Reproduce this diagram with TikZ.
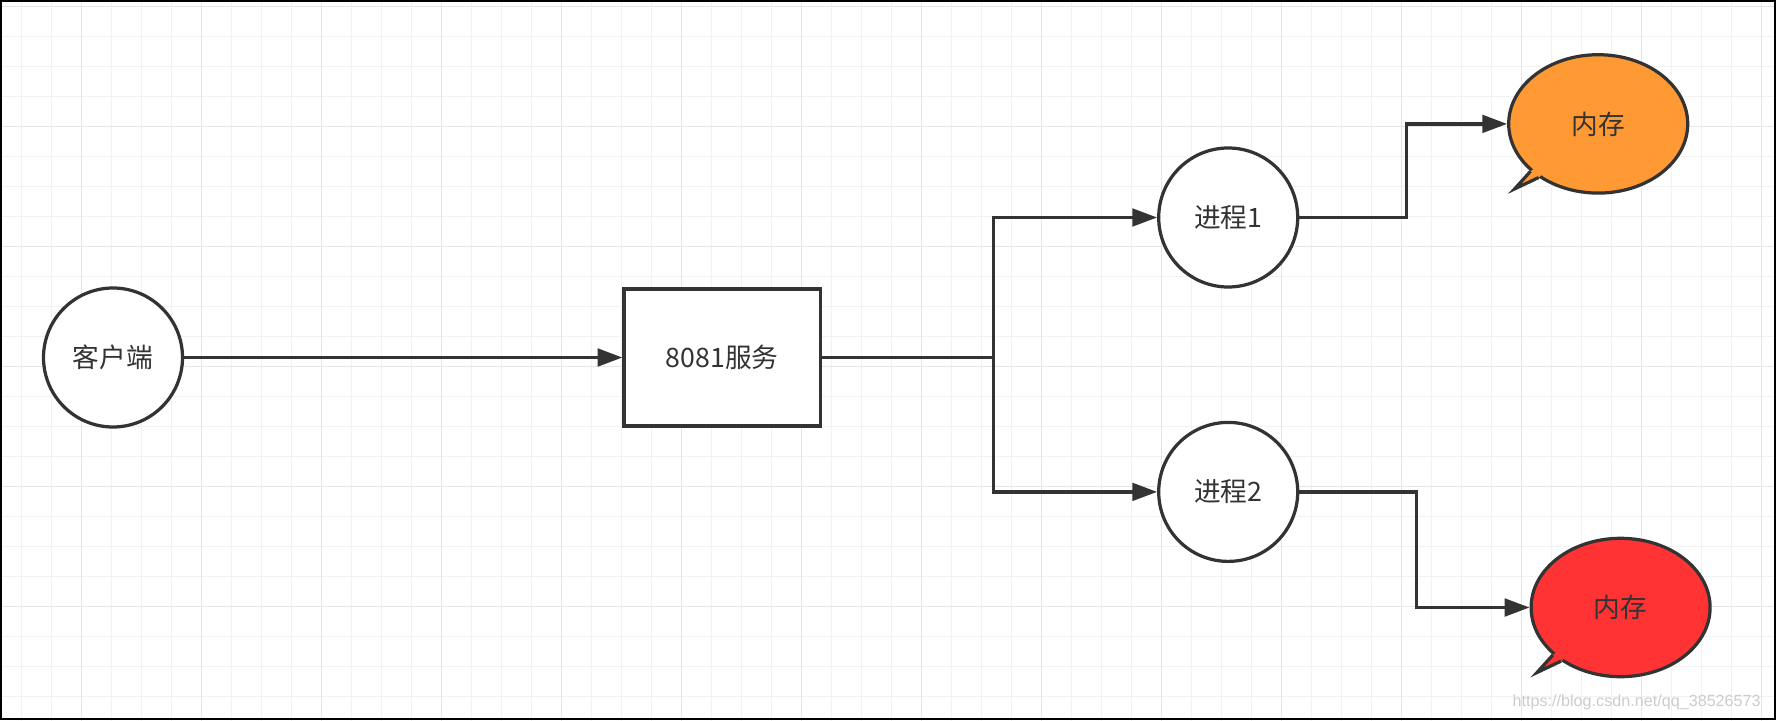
\documentclass[tikz,border=0pt]{standalone}
\usepackage{fontspec}
\setmainfont{Noto Sans CJK SC}
\newfontfamily\wmfont{Liberation Sans}
\usetikzlibrary{arrows.meta,positioning,shapes.geometric,calc}
\definecolor{ink}{HTML}{333333}
\definecolor{gridfine}{HTML}{F2F2F2}
\definecolor{gridbold}{HTML}{E6E6E6}
\definecolor{memorange}{HTML}{FF9933}
\definecolor{memred}{HTML}{FF3333}

\begin{document}
\begin{tikzpicture}[>={Triangle[length=0.62cm,width=0.44cm]},line width=2.3pt,on grid,
	every node/.style={font=\fontsize{19}{22}\selectfont,text=ink}]
	\tikzstyle{proc}=[circle,draw=ink,fill=white,minimum size=3.475cm,inner sep=0pt]
	\tikzstyle{service}=[rectangle,draw=ink,fill=white,minimum width=4.91cm,minimum height=3.425cm]
	\tikzstyle{bubble}=[ellipse,draw=ink,minimum width=4.475cm,minimum height=3.46cm,inner sep=0pt]
	\tikzstyle{link}=[->,draw=ink]

	% paper and grid
	\useasboundingbox (0,0) rectangle (44.4,18);
	\begin{scope}
		\clip (0,0) rectangle (44.4,18);
		\fill[white] (0,0) rectangle (44.4,18);
		\draw[gridfine,line width=0.9pt,step=0.75,shift={(0.5425,0.5825)}] (-1.5,-1.5) grid (45,19);
		\draw[gridbold,line width=0.9pt,step=3,shift={(2.0425,2.8325)}] (-3,-3) grid (45,18);
	\end{scope}
	\draw[black,line width=1.6pt] (0.028,0.028) rectangle (44.372,17.972);

	\node[proc] (client) at (2.825,9.0625) {客户端};
	\node[service] (server) [right=15.23cm of client] {8081服务};
	\node[proc] (proc1) [above right=3.5cm and 12.65cm of server] {进程1};
	\node[proc] (proc2) [below right=3.36cm and 12.65cm of server] {进程2};
	\node[bubble,fill=memorange] (mem1) [above right=2.34cm and 9.25cm of proc1] {内存};
	\node[bubble,fill=memred] (mem2) [below right=2.89cm and 9.81cm of proc2] {内存};

	% speech tails
	\foreach \m/\c in {mem1/memorange,mem2/memred}{
		\fill[\c] ($(\m.center)!0.8!(\m.215.6)$) -- (\m.215.6) -- ($(\m.center)+(-2.09,-1.625)$)
			-- (\m.222.7) -- ($(\m.center)!0.8!(\m.222.7)$) -- cycle;
		\draw[ink,line join=miter] (\m.215.6) -- ($(\m.center)+(-2.09,-1.625)$) -- (\m.222.7);
	}

	\draw[link] (client) -- (server);
	\coordinate[right=4.28cm of server.east] (fork);
	\draw[link] (server.east) -- (fork) |- (proc1);
	\draw[link] (fork) |- (proc2);
	\draw[link] (proc1.east) -- ++(2.675,0) |- (mem1);
	\draw[link] (proc2.east) -- ++(2.925,0) |- (mem2);

	\node[anchor=base east,font=\wmfont\fontsize{11.5}{13}\selectfont,text=black!20] (wm) at (44.175,0.35) {https://blog.csdn.net/qq\_38526573};
\end{tikzpicture}
\end{document}
